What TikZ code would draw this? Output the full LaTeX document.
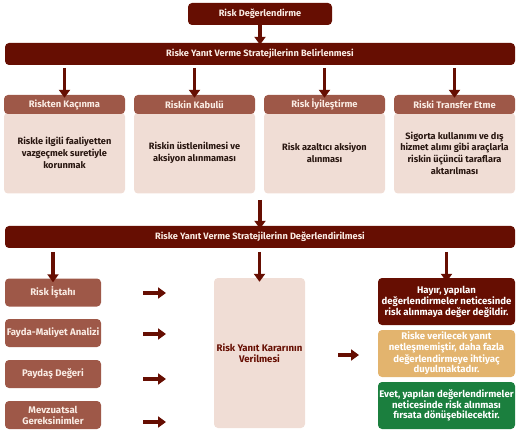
\documentclass[tikz,border=0pt]{standalone}
\usepackage{fontspec}
\setmainfont{Fira Sans}
\usetikzlibrary{arrows.meta}
\definecolor{dred}{RGB}{102,14,2}
\definecolor{hbrown}{RGB}{158,88,72}
\definecolor{pinkbg}{RGB}{240,221,213}
\definecolor{tanbg}{RGB}{227,180,110}
\definecolor{greenbg}{RGB}{27,127,62}
\definecolor{bodytxt}{RGB}{40,22,16}
\definecolor{cream}{RGB}{250,236,228}
\tikzset{
  base/.style={rounded corners=4pt, inner sep=0pt, align=center, font=\bfseries\fontsize{9.2}{10}\selectfont},
  bar/.style={base, fill=dred, text=cream, minimum height=22pt},
  colhead/.style={base, fill=hbrown, text=cream, minimum width=121pt, minimum height=19pt, font=\bfseries\fontsize{9.4}{10}\selectfont},
  colbody/.style={base, fill=pinkbg, text=bodytxt, minimum width=121pt, minimum height=81pt, font=\bfseries\fontsize{9.2}{11.7}\selectfont},
  leftbox/.style={base, fill=hbrown, text=cream, minimum width=96pt, minimum height=28pt, font=\bfseries\fontsize{9.6}{11}\selectfont},
  midbox/.style={base, fill=pinkbg, text=dred, minimum width=91pt, minimum height=150pt, font=\bfseries\fontsize{9.6}{10.5}\selectfont},
  rbox/.style={base, text=white, minimum width=137pt, minimum height=47pt, font=\bfseries\fontsize{9.6}{9.6}\selectfont},
  arr/.style={draw=dred, line width=3.2pt, -{Triangle[width=11pt,length=8pt]}},
}
\begin{document}
\begin{tikzpicture}[x=1pt,y=-1pt]
\useasboundingbox (0,0) rectangle (520,433);
% top
\node[bar, minimum width=144pt] (top) at (260,14) {Risk Değerlendirme};
\node[bar, minimum width=510pt] (bar1) at (260,54) {Riske Yanıt Verme Stratejilerinn Belirlenmesi};
% column bodies
\node[colbody] (b1) at (64.5,153) {Riskle ilgili faaliyetten\\vazgeçmek suretiyle\\korunmak};
\node[colbody] (b2) at (194.5,153) {Riskin üstlenilmesi ve\\aksiyon alınmaması};
\node[colbody] (b3) at (324.5,153) {Risk azaltıcı aksiyon\\alınması};
\node[colbody] (b4) at (454.5,153) {Sigorta kullanımı ve dış\\hizmet alımı gibi araçlarla\\riskin üçüncü taraflara\\aktarılması};
% column headers
\node[colhead] (h1) at (64.5,104.5) {Riskten Kaçınma};
\node[colhead] (h2) at (194.5,104.5) {Riskin Kabulü};
\node[colhead] (h3) at (324.5,104.5) {Risk İyileştirme};
\node[colhead] (h4) at (454.5,104.5) {Riski Transfer Etme};
% second bar
\node[bar, minimum width=510pt] (bar2) at (260,237) {Riske Yanıt Verme Stratejilerinn Değerlendirilmesi};
% left boxes
\node[leftbox] (l1) at (53,292.5) {Risk İştahı};
\node[leftbox] (l2) at (53,333) {Fayda-Maliyet Analizi};
\node[leftbox] (l3) at (53,374) {Paydaş Değeri};
\node[leftbox] (l4) at (53,415) {Mevzuatsal\\Gereksinimler};
% middle box
\node[midbox] (mid) at (259.5,353) {Risk Yanıt Kararının\\Verilmesi};
% right boxes
\node[rbox, fill=dred] (r1) at (446.5,301.5) {Hayır, yapılan\\değerlendirmeler neticesinde\\risk alınmaya değer değildir.};
\node[rbox, fill=tanbg] (r2) at (446.5,353.5) {Riske verilecek yanıt\\netleşmemiştir, daha fazla\\değerlendirmeye ihtiyaç\\duyulmaktadır.};
\node[rbox, fill=greenbg] (r3) at (446.5,405.5) {Evet, yapılan değerlendirmeler\\neticesinde risk alınması\\fırsata dönüşebilecektir.};
% arrows
\draw[arr] (top.south) -- ([yshift=-2pt]bar1.north);
\foreach \h in {h1,h2,h3,h4}{
  \draw[arr] (\h.north |- 0,68) -- ([yshift=-3pt]\h.north);
}
\coordinate (mstart) at (260,200);
\draw[arr] (mstart) -- ([yshift=-3pt]bar2.north);
\draw[arr] (l1.north |- 0,252) -- ([yshift=-4pt]l1.north);
\draw[arr] (mid.north |- 0,252) -- ([yshift=-4pt]mid.north);
\draw[arr] (r1.north |- 0,252) -- ([yshift=-4pt]r1.north);
\coordinate (a1s) at (143,293); \coordinate (a1e) at (166,293);
\coordinate (a2s) at (143,334); \coordinate (a2e) at (166,334);
\coordinate (a3s) at (143,379); \coordinate (a3e) at (166,379);
\coordinate (a4s) at (143,422); \coordinate (a4e) at (166,422);
\draw[arr] (a1s) -- (a1e);
\draw[arr] (a2s) -- (a2e);
\draw[arr] (a3s) -- (a3e);
\draw[arr] (a4s) -- (a4e);
\coordinate (a5s) at (338,355);
\coordinate (a5e) at (359,355);
\draw[arr] (a5s) -- (a5e);
\end{tikzpicture}
\end{document}
